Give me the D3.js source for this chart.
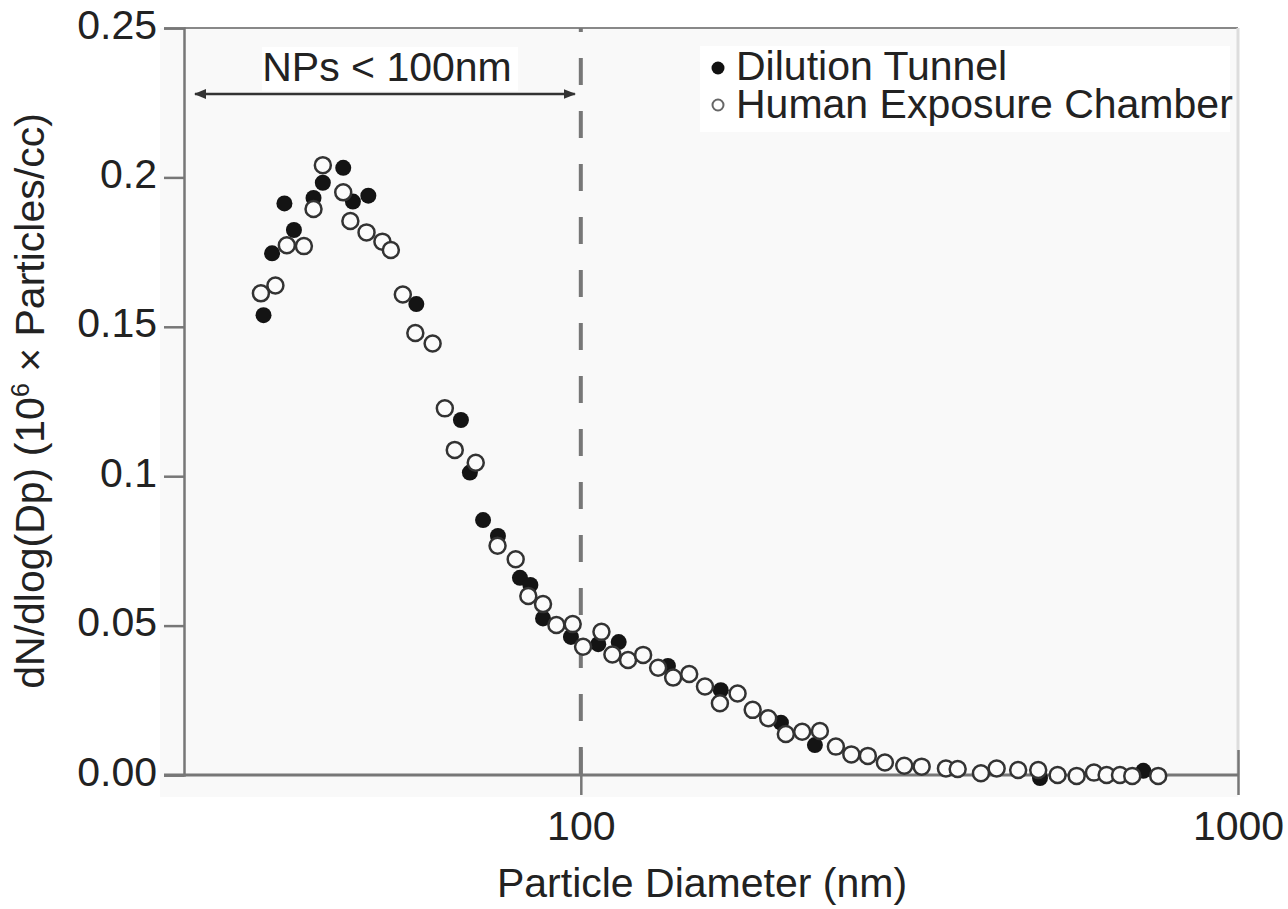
<!DOCTYPE html>
<html>
<head>
<meta charset="utf-8">
<script src="https://cdn.jsdelivr.net/npm/d3@7"></script>
<style>
  body { margin: 0; background: #fff; }
  svg text { font-family: "Liberation Sans", Arial, sans-serif; fill: #222; }
</style>
</head>
<body>
<div id="chart"></div>
<script>
// particle size distribution
const tunnelD = [32.9, 33.9, 35.4, 36.6, 39.2, 40.5, 43.5, 45.0, 47.5, 56.2, 65.7, 67.8, 71.0, 74.8,
  80.8, 83.8, 87.6, 96.6, 106.3, 114.2, 135.7, 163.3, 201.6, 227.1, 499.7, 717.7];
const tunnelN = [0.1539, 0.1746, 0.1913, 0.1824, 0.1931, 0.1982, 0.2032, 0.1919, 0.1939, 0.1576, 0.1188, 0.1012, 0.0853, 0.0800,
  0.0660, 0.0636, 0.0524, 0.0462, 0.0438, 0.0445, 0.0365, 0.0284, 0.0175, 0.0100, -0.0010, 0.0014];

const chamberD = [32.6, 34.3, 35.7, 37.9, 39.2, 40.5, 43.5, 44.6, 47.2, 49.9, 51.4, 53.6, 56.0, 59.5,
  62.1, 64.3, 69.2, 74.7, 79.6, 83.2, 87.6, 91.8, 97.2, 100.8, 107.5, 111.7, 118.0, 124.4, 131.1, 138.2,
  146.2, 154.5, 162.8, 173.2, 182.6, 192.8, 205.1, 217.2, 231.1, 244.4, 258.0, 273.4, 290.2, 310.6, 330.1,
  359.4, 374.5, 406.3, 429.3, 462.9, 496.6, 531.5, 568.2, 603.7, 631.1, 661.3, 690.4, 756.1];
const chamberN = [0.1612, 0.1638, 0.1773, 0.1770, 0.1894, 0.2041, 0.1950, 0.1854, 0.1816, 0.1785, 0.1757, 0.1608, 0.1479, 0.1444,
  0.1227, 0.1088, 0.1045, 0.0767, 0.0722, 0.0599, 0.0572, 0.0502, 0.0505, 0.0429, 0.0479, 0.0403, 0.0385, 0.0402, 0.0359, 0.0326,
  0.0338, 0.0296, 0.0240, 0.0273, 0.0218, 0.0190, 0.0137, 0.0145, 0.0147, 0.0095, 0.0069, 0.0064, 0.0042, 0.0031, 0.0028,
  0.0022, 0.0020, 0.0006, 0.0022, 0.0017, 0.0017, 0.0000, -0.0003, 0.0008, 0.0000, 0.0000, -0.0003, -0.0003];

const yTicks = [0, 0.05, 0.1, 0.15, 0.2, 0.25];
const yTickLabels = ["0.00", "0.05", "0.1", "0.15", "0.2", "0.25"];
const xTicks = [100, 1000];
const seriesNames = ["Dilution Tunnel", "Human Exposure Chamber"];
const cutoff = 100;

const layout = { width: 1288, height: 909, left: 184, right: 1238, top: 28, bottom: 775 };
const fontSize = 41;

const svg = d3.select("#chart").append("svg")
  .attr("width", layout.width)
  .attr("height", layout.height);

const x = d3.scaleLog().domain([24.9, 1000]).range([layout.left, layout.right]);
const y = d3.scaleLinear().domain([0, 0.25]).range([layout.bottom, layout.top]);

// plot background
svg.append("rect")
  .attr("x", 160).attr("y", layout.top)
  .attr("width", layout.right - 160).attr("height", 797 - layout.top)
  .attr("fill", "#f9f9f9");

// top and right frame
svg.append("line")
  .attr("x1", layout.left).attr("x2", layout.right)
  .attr("y1", layout.top).attr("y2", layout.top)
  .attr("stroke", "#888").attr("stroke-width", 2);
svg.append("line")
  .attr("x1", layout.right).attr("x2", layout.right)
  .attr("y1", layout.top).attr("y2", layout.bottom)
  .attr("stroke", "#ddd").attr("stroke-width", 3);

// white boxes behind annotation texts
svg.append("rect").attr("x", 262).attr("y", 47).attr("width", 256).attr("height", 44).attr("fill", "#fff");
svg.append("rect").attr("x", 700).attr("y", 46).attr("width", 530).attr("height", 86).attr("fill", "#fff");

// y axis
let yAxis = svg.append("g")
  .attr("transform", `translate(${layout.left},0)`)
  .call(d3.axisLeft(y).tickValues(yTicks).tickSize(20)
    .tickFormat((d, i) => yTickLabels[i]));
yAxis.select(".domain").attr("stroke", "#777").attr("stroke-width", 2.5);
yAxis.selectAll(".tick line").attr("stroke", "#777").attr("stroke-width", 2.5);
yAxis.selectAll(".tick text")
  .attr("x", -27).attr("dy", null).attr("y", 10)
  .attr("font-size", fontSize).style("fill", "#222");

// x axis
let xAxis = svg.append("g")
  .attr("transform", `translate(0,${layout.bottom})`)
  .call(d3.axisBottom(x).tickValues(xTicks).tickSize(20).tickFormat(d3.format("d")));
xAxis.select(".domain").remove();
xAxis.selectAll(".tick line").attr("y1", -25).attr("y2", 20)
  .attr("stroke", "#777").attr("stroke-width", 2.5);
xAxis.selectAll(".tick text")
  .attr("y", 65).attr("dy", null)
  .attr("font-size", fontSize).style("fill", "#222");
svg.append("line")
  .attr("x1", 164).attr("x2", layout.right)
  .attr("y1", layout.bottom).attr("y2", layout.bottom)
  .attr("stroke", "#777").attr("stroke-width", 3);

// 100 nm cutoff
svg.append("line")
  .attr("x1", x(cutoff)).attr("x2", x(cutoff))
  .attr("y1", y(0.25)).attr("y2", y(0))
  .attr("stroke", "#777").attr("stroke-width", 4)
  .attr("stroke-dasharray", "27,26").attr("stroke-dashoffset", 23);

// double arrow for NPs
const defs = svg.append("defs");
defs.append("marker")
  .attr("id", "arrow")
  .attr("viewBox", "0 0 10 10").attr("refX", 9).attr("refY", 5)
  .attr("markerWidth", 5).attr("markerHeight", 5)
  .attr("markerUnits", "strokeWidth")
  .attr("orient", "auto-start-reverse")
  .append("path").attr("d", "M0,1 L10,5 L0,9 z").attr("fill", "#333");
svg.append("line")
  .attr("x1", 195).attr("x2", x(cutoff) - 6)
  .attr("y1", 94).attr("y2", 94)
  .attr("stroke", "#333").attr("stroke-width", 2.5)
  .attr("marker-start", "url(#arrow)")
  .attr("marker-end", "url(#arrow)");
svg.append("text")
  .attr("x", 387).attr("y", 81)
  .attr("text-anchor", "middle")
  .attr("font-size", fontSize)
  .text("NPs < 100nm");

// points
const tunnel = tunnelD.map((d, i) => ({ d: d, n: tunnelN[i] }));
const chamber = chamberD.map((d, i) => ({ d: d, n: chamberN[i] }));

svg.append("g").selectAll("circle").data(tunnel).join("circle")
  .attr("cx", p => x(p.d))
  .attr("cy", p => y(p.n))
  .attr("r", 8)
  .attr("fill", "#141414");

svg.append("g").selectAll("circle").data(chamber).join("circle")
  .attr("cx", p => x(p.d))
  .attr("cy", p => y(p.n))
  .attr("r", 8)
  .attr("fill", "#fbfbfb")
  .attr("stroke", "#333")
  .attr("stroke-width", 2.5);

// legend
let legend = svg.append("g");
legend.append("circle").attr("cx", 718).attr("cy", 68).attr("r", 6.5).attr("fill", "#111");
legend.append("circle").attr("cx", 718).attr("cy", 105).attr("r", 5.5)
  .attr("fill", "#fff").attr("stroke", "#666").attr("stroke-width", 2);
legend.selectAll("text").data(seriesNames).join("text")
  .attr("x", 736)
  .attr("y", (d, i) => 80 + i * 38)
  .attr("font-size", fontSize)
  .text(d => d);

// axis titles
svg.append("text")
  .attr("x", 702).attr("y", 897)
  .attr("text-anchor", "middle")
  .attr("font-size", fontSize)
  .text("Particle Diameter (nm)");

let yTitle = svg.append("text")
  .attr("transform", "translate(44,401) rotate(-90)")
  .attr("text-anchor", "middle")
  .attr("font-size", fontSize);
yTitle.append("tspan").text("dN/dlog(Dp) (10");
yTitle.append("tspan").attr("font-size", 25).attr("dy", -15).text("6");
yTitle.append("tspan").attr("dy", 15).text(" \u00d7 Particles/cc)");
</script>
</body>
</html>
